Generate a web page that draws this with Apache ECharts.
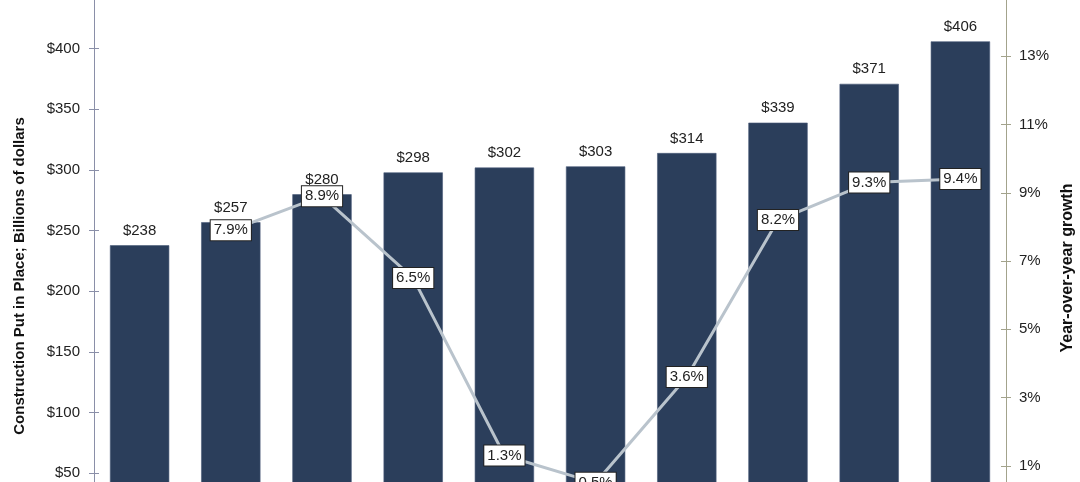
<!DOCTYPE html>
<html>
<head>
<meta charset="utf-8">
<script src="https://cdn.jsdelivr.net/npm/echarts@6/dist/echarts.min.js"></script>
<style>
html,body{margin:0;padding:0;background:#fff;}
#chart{width:1080px;height:482px;}
</style>
</head>
<body>
<div id="chart"></div>
<script>
const categories = ['2013','2014','2015','2016','2017','2018','2019','2020','2021','2022'];
const spending = [238, 257, 280, 298, 302, 303, 314, 339, 371, 406];
const growth = [null, 7.9, 8.9, 6.5, 1.3, 0.5, 3.6, 8.2, 9.3, 9.4];

const FONT = 'Liberation Sans, Arial, sans-serif';
const chart = echarts.init(document.getElementById('chart'));

const leftScale = {min: 0, max: 450, interval: 50};
const rightScale = {min: -1, max: 15, interval: 2};

chart.setOption({
  animation: false,
  backgroundColor: '#ffffff',
  grid: {left: 94, right: 74, top: -12, bottom: -52, containLabel: false, outerBoundsMode: 'none'},
  xAxis: {
    type: 'category',
    data: categories,
    axisLine: {show: false},
    axisTick: {show: false},
    axisLabel: {show: false}
  },
  yAxis: [
    Object.assign({
      type: 'value', position: 'left',
      name: 'Construction Put in Place; Billions of dollars',
      nameLocation: 'middle', nameRotate: 90, nameGap: 67,
      nameTextStyle: {fontFamily: FONT, fontSize: 15, fontWeight: 'bold', color: '#111', padding: [0, 30, 0, 0]},
      axisLine: {show: true, lineStyle: {color: '#8a8fa8', width: 1}},
      axisTick: {show: true, length: 5, lineStyle: {color: '#8a8fa8'}},
      axisLabel: {fontFamily: FONT, fontSize: 15, color: '#222', margin: 14, formatter: v => '$' + v},
      splitLine: {show: false}
    }, leftScale),
    Object.assign({
      type: 'value', position: 'right',
      name: 'Year-over-year growth',
      nameLocation: 'middle', nameRotate: 90, nameGap: 54,
      nameTextStyle: {fontFamily: FONT, fontSize: 16, fontWeight: 'bold', color: '#111', padding: [0, 14, 0, 0]},
      axisLine: {show: true, lineStyle: {color: '#a3a38c', width: 1}},
      axisTick: {show: true, length: 5, lineStyle: {color: '#a3a38c'}},
      axisLabel: {fontFamily: FONT, fontSize: 15, color: '#222', margin: 13, formatter: v => v + '%'},
      splitLine: {show: false}
    }, rightScale),
    Object.assign({
      type: 'value', position: 'left', offset: 0,
      axisLine: {show: false},
      axisTick: {show: true, inside: true, length: 5, lineStyle: {color: '#8a8fa8'}},
      axisLabel: {show: false}, splitLine: {show: false}
    }, leftScale),
    Object.assign({
      type: 'value', position: 'right', offset: 0,
      axisLine: {show: false},
      axisTick: {show: true, inside: true, length: 5, lineStyle: {color: '#a3a38c'}},
      axisLabel: {show: false}, splitLine: {show: false}
    }, rightScale)
  ],
  series: [
    {
      type: 'bar',
      data: spending,
      yAxisIndex: 0,
      barWidth: '65%',
      itemStyle: {color: '#2b3e5b', borderColor: '#4a5a78', borderWidth: 0.6},
      label: {
        show: true, position: 'top', distance: 7,
        fontFamily: FONT, fontSize: 15, color: '#222',
        formatter: p => '$' + p.value
      },
      z: 2
    },
    {
      type: 'line',
      data: growth,
      yAxisIndex: 1,
      symbol: 'circle',
      symbolSize: 1,
      showSymbol: true,
      itemStyle: {color: '#b9c3cc'},
      lineStyle: {color: '#b9c3cc', width: 3},
      label: {
        show: true, position: 'inside',
        fontFamily: FONT, fontSize: 15, color: '#222',
        backgroundColor: '#fff', borderColor: '#222', borderWidth: 1,
        padding: [3, 3, 2, 3],
        formatter: p => (p.value == null ? '' : Number(p.value).toFixed(1) + '%')
      },
      labelLayout: {hideOverlap: false},
      z: 5
    }
  ]
});
</script>
</body>
</html>
